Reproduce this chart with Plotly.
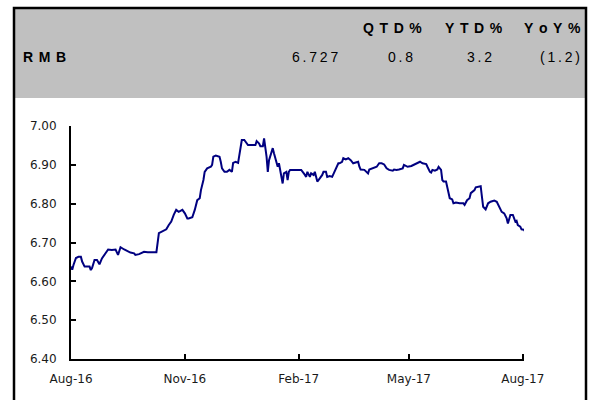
import plotly.graph_objects as go

# ---- data ----
dates = [
    "2016-08-01","2016-08-02","2016-08-03","2016-08-05","2016-08-07","2016-08-09","2016-08-10","2016-08-12",
    "2016-08-16","2016-08-17","2016-08-18","2016-08-20","2016-08-22","2016-08-24","2016-08-26","2016-08-29",
    "2016-08-31","2016-09-03","2016-09-06","2016-09-08","2016-09-10","2016-09-13","2016-09-16","2016-09-18",
    "2016-09-21","2016-09-22","2016-09-25","2016-09-29","2016-10-02","2016-10-09","2016-10-11","2016-10-14",
    "2016-10-17","2016-10-19","2016-10-21","2016-10-23","2016-10-25","2016-10-27","2016-10-30","2016-11-01",
    "2016-11-03","2016-11-04","2016-11-07","2016-11-09","2016-11-11","2016-11-13","2016-11-14","2016-11-16",
    "2016-11-17","2016-11-19","2016-11-22","2016-11-23","2016-11-24","2016-11-26","2016-11-29","2016-11-30",
    "2016-12-01","2016-12-03","2016-12-05","2016-12-07","2016-12-09","2016-12-10","2016-12-12","2016-12-14",
    "2016-12-16","2016-12-17","2016-12-19","2016-12-20","2016-12-22","2016-12-28","2016-12-29","2016-12-31",
    "2017-01-01","2017-01-03","2017-01-04","2017-01-06","2017-01-07","2017-01-08","2017-01-10","2017-01-11",
    "2017-01-12","2017-01-14","2017-01-15","2017-01-16","2017-01-18","2017-01-19","2017-01-20","2017-01-22",
    "2017-01-23","2017-01-24","2017-01-25","2017-02-03","2017-02-06","2017-02-07","2017-02-08","2017-02-10",
    "2017-02-11","2017-02-13","2017-02-14","2017-02-16","2017-02-18","2017-02-20","2017-02-21","2017-02-23",
    "2017-02-24","2017-02-26","2017-02-28","2017-03-03","2017-03-05","2017-03-06","2017-03-08","2017-03-09",
    "2017-03-11","2017-03-13","2017-03-15","2017-03-17","2017-03-18","2017-03-21","2017-03-22","2017-03-23",
    "2017-03-26","2017-03-28","2017-03-29","2017-03-30","2017-04-02","2017-04-05","2017-04-07","2017-04-09",
    "2017-04-11","2017-04-13","2017-04-15","2017-04-18","2017-04-19","2017-04-21","2017-04-23","2017-04-26",
    "2017-04-27","2017-04-30","2017-05-03","2017-05-06","2017-05-08","2017-05-10","2017-05-12","2017-05-15",
    "2017-05-16","2017-05-18","2017-05-19","2017-05-20","2017-05-22","2017-05-24","2017-05-25","2017-05-27",
    "2017-05-28","2017-05-29","2017-05-31","2017-06-02","2017-06-03","2017-06-05","2017-06-06","2017-06-08",
    "2017-06-11","2017-06-14","2017-06-15","2017-06-17","2017-06-19","2017-06-20","2017-06-23","2017-06-24",
    "2017-06-26","2017-06-28","2017-06-29","2017-06-30","2017-07-02","2017-07-04","2017-07-06","2017-07-09",
    "2017-07-11","2017-07-13","2017-07-15","2017-07-17","2017-07-19","2017-07-20","2017-07-22","2017-07-24",
    "2017-07-26","2017-07-27","2017-07-28","2017-07-30","2017-07-31","2017-08-02","2017-08-03",
]
rmb = [
    6.638,6.630,6.642,6.660,6.663,6.663,6.651,6.638,
    6.638,6.629,6.634,6.655,6.655,6.644,6.659,6.672,
    6.682,6.681,6.682,6.668,6.688,6.682,6.676,6.674,
    6.672,6.668,6.670,6.676,6.675,6.675,6.724,6.728,
    6.734,6.745,6.754,6.771,6.784,6.779,6.784,6.775,
    6.762,6.762,6.765,6.784,6.809,6.814,6.835,6.861,
    6.882,6.891,6.895,6.900,6.921,6.924,6.921,6.908,
    6.891,6.882,6.882,6.887,6.882,6.905,6.908,6.905,
    6.947,6.964,6.964,6.960,6.951,6.951,6.961,6.955,
    6.948,6.948,6.968,6.921,6.882,6.912,6.938,6.943,
    6.930,6.904,6.895,6.904,6.861,6.852,6.878,6.882,
    6.861,6.882,6.887,6.887,6.874,6.869,6.882,6.869,
    6.878,6.874,6.882,6.857,6.865,6.874,6.882,6.882,
    6.869,6.871,6.869,6.891,6.904,6.904,6.908,6.917,
    6.914,6.917,6.912,6.904,6.905,6.908,6.895,6.888,
    6.887,6.882,6.878,6.888,6.891,6.895,6.904,6.904,
    6.901,6.891,6.887,6.885,6.888,6.887,6.888,6.891,
    6.900,6.895,6.897,6.902,6.905,6.908,6.904,6.902,
    6.895,6.882,6.880,6.887,6.885,6.888,6.895,6.887,
    6.861,6.857,6.857,6.827,6.814,6.811,6.801,6.803,
    6.801,6.801,6.797,6.809,6.814,6.827,6.835,6.842,
    6.844,6.845,6.818,6.792,6.785,6.801,6.805,6.808,
    6.805,6.792,6.779,6.775,6.762,6.749,6.771,6.771,
    6.754,6.756,6.745,6.741,6.734,6.733,6.727,
]

x_tick_vals = ["2016-08-01", "2016-11-01", "2017-02-01", "2017-05-01", "2017-08-01"]
x_tick_text = ["Aug-16", "Nov-16", "Feb-17", "May-17", "Aug-17"]
y_tick_vals = [6.40, 6.50, 6.60, 6.70, 6.80, 6.90, 7.00]

header_label = "RMB"
header_cols = ["QTD%", "YTD%", "YoY%"]
header_spot = "6.727"
header_vals = ["0.8", "3.2", "(1.2)"]

# ---- layout geometry (pixels) ----
W, H = 593, 400
L, R, T, B = 71, 524, 126, 359  # plot area in pixels


def px(x):
    return (x - L) / (R - L)


def py(y):
    return (B - y) / (B - T)


def spaced(s, sep="\u2009\u2009"):
    return sep.join(list(s))


fig = go.Figure()
fig.add_trace(go.Scatter(
    x=dates, y=rmb, mode="lines",
    line=dict(color="#000080", width=2),
    showlegend=False, hoverinfo="skip",
))

shapes = [
    dict(type="rect", xref="paper", yref="paper",
         x0=px(14), x1=px(586), y0=py(98), y1=py(8),
         fillcolor="#c0c0c0", line=dict(width=0), layer="below"),
    dict(type="rect", xref="paper", yref="paper",
         x0=px(14), x1=px(586), y0=py(420), y1=py(8),
         fillcolor="rgba(0,0,0,0)", line=dict(color="black", width=2.5), layer="above"),
]

hfont = dict(family="Liberation Sans, Arial, sans-serif", size=14, color="black")
annotations = []
annotations.append(dict(xref="paper", yref="paper", x=px(21), y=py(57.5),
                        text="<b>" + spaced(header_label) + "</b>", showarrow=False,
                        xanchor="left", yanchor="middle", font=hfont))
for txt, xr in zip(header_cols, [424, 505, 583]):
    annotations.append(dict(xref="paper", yref="paper", x=px(xr), y=py(28),
                            text="<b>" + spaced(txt) + "</b>", showarrow=False,
                            xanchor="right", yanchor="middle", font=hfont))
for txt, xr in zip([header_spot] + header_vals, [340, 415, 494, 582]):
    annotations.append(dict(xref="paper", yref="paper", x=px(xr), y=py(57.5),
                            text=spaced(txt, "\u2009"), showarrow=False,
                            xanchor="right", yanchor="middle", font=hfont))

tfont = dict(family="DejaVu Sans, Verdana, sans-serif", size=12, color="#1a1a1a")
fig.update_layout(
    width=W, height=H, autosize=False,
    margin=dict(l=L, r=W - R, t=T, b=H - B, pad=0),
    paper_bgcolor="white", plot_bgcolor="white",
    shapes=shapes, annotations=annotations,
    xaxis=dict(
        type="date", range=["2016-08-01", "2017-08-02"],
        tickmode="array", tickvals=x_tick_vals, ticktext=x_tick_text,
        ticks="inside", ticklen=5, tickwidth=1.5, tickcolor="black",
        showline=True, linecolor="black", linewidth=2,
        showgrid=False, zeroline=False, tickfont=tfont,
        ticklabelstandoff=8,
    ),
    yaxis=dict(
        range=[6.40, 7.00], tickmode="array", tickvals=y_tick_vals,
        tickformat=".2f",
        ticks="inside", ticklen=5, tickwidth=1.5, tickcolor="black",
        showline=True, linecolor="black", linewidth=2,
        showgrid=False, zeroline=False, tickfont=tfont,
        ticklabelstandoff=10,
    ),
)

fig.write_html(
    "out.html",
    config={"displayModeBar": False},
    post_script="document.body.style.margin='0';document.body.style.overflow='hidden';",
)
